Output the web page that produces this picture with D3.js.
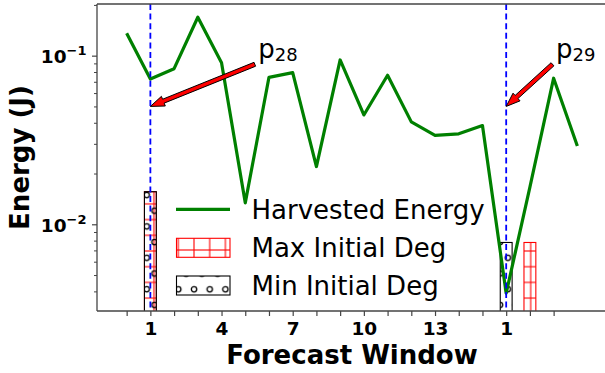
<!DOCTYPE html>
<html><head><meta charset="utf-8">
<script src="https://cdn.jsdelivr.net/npm/d3@7"></script>
<style>body{margin:0;background:#fff} svg{display:block;font-family:"DejaVu Sans",sans-serif}</style>
</head><body>
<svg id="chart" width="605" height="373"></svg>
<script>
// ---- data ----
const windowIdx = [0,1,2,3,4,5,6,7,8,9,10,11,12,13,14,15,16,17,18,19];
const harvested = [0.136,0.0727,0.0837,0.169,0.0909,0.0134,0.0744,0.0793,0.022,0.0943,
                   0.0445,0.0765,0.0405,0.0337,0.0344,0.0385,0.0039,0.0166,0.0735,0.0291];
const maxDegX = [1, 17];
const maxDegVals = [0.0156, 0.0078];
const minDegX = [1, 16];
const minDegVals = [0.0156, 0.0078];
const boundaryX = [1, 16];
const xTickValues = [0,1,2,3,4,5,6,7,8,9,10,11,12,13,14,15,16,17,18];
const xLabelPositions = [1,4,7,10,13,16];
const xLabelTexts = ["1","4","7","10","13","1"];
const yMajorTicks = [0.01, 0.1];
const yMajorExps = ["\u22122","\u22121"];
const yMinorTicks = [0.004,0.005,0.006,0.007,0.008,0.009,0.02,0.03,0.04,0.05,0.06,0.07,0.08,0.09,0.2];
const annotLabels = ["28","29"];
const annotTipX = [1, 16];
const annotTipY = [0.05, 0.05];
const annotTextX = [5.55, 18.1];
const annotTextY = [0.0965, 0.0965];
const legendLabels = ["Harvested Energy","Max Initial Deg","Min Initial Deg"];

// ---- layout ----
const L = 97, T = 4, R = 607, B = 311;
const svg = d3.select("#chart");
const x = d3.scaleLinear().domain([-1.25, 20.25]).range([L, R]);
const y = d3.scaleLog().domain([0.00306, 0.2025]).range([B, T]);
const spineColor = "#444";

// hatch patterns
const defs = svg.append("defs");
const P = 15.7;
function plusPattern(id, ox, oy){
  const p = defs.append("pattern").attr("id", id).attr("patternUnits","userSpaceOnUse")
    .attr("width", P).attr("height", P).attr("x", ox - P/2).attr("y", oy - P/2);
  p.append("line").attr("x1", P/2).attr("x2", P/2).attr("y1", 0).attr("y2", P).attr("stroke","#ff0000").attr("stroke-width",1.1);
  p.append("line").attr("y1", P/2).attr("y2", P/2).attr("x1", 0).attr("x2", P).attr("stroke","#ff0000").attr("stroke-width",1.1);
}
function circlePattern(id, ox, oy){
  const p = defs.append("pattern").attr("id", id).attr("patternUnits","userSpaceOnUse")
    .attr("width", P).attr("height", 2*P).attr("x", ox - 4).attr("y", oy - 4);
  p.append("circle").attr("cx", 4).attr("cy", 4).attr("r", 2.7).attr("fill","none").attr("stroke","#000").attr("stroke-width",1.3);
  p.append("circle").attr("cx", 4 + P/2).attr("cy", 4 + P).attr("r", 2.7).attr("fill","none").attr("stroke","#000").attr("stroke-width",1.3);
}
plusPattern("plusHatch", 530.7, 251);
circlePattern("circHatch", 146.7, 195);
plusPattern("plusHatchLeg", 194, 250);
circlePattern("circHatchLeg", 178.3, 289.3);

const clip = defs.append("clipPath").attr("id","axclip");
clip.append("rect").attr("x", L).attr("y", T).attr("width", R - L).attr("height", B - T);

const plot = svg.append("g").attr("clip-path","url(#axclip)");

// bars
const bw = 0.5;
function drawBars(xs, vals, color, pat){
  const g = plot.append("g");
  g.selectAll("rect.h").data(xs).join("rect")
    .attr("x", (d)=>x(d - bw/2)).attr("width", x(bw) - x(0))
    .attr("y", (d,i)=>y(vals[i])).attr("height", (d,i)=>B - y(vals[i]) + 2)
    .attr("fill", `url(#${pat})`);
  g.selectAll("rect.e").data(xs).join("rect")
    .attr("x", (d)=>x(d - bw/2)).attr("width", x(bw) - x(0))
    .attr("y", (d,i)=>y(vals[i])).attr("height", (d,i)=>B - y(vals[i]) + 2)
    .attr("fill", "none").attr("stroke", color).attr("stroke-width", 1.1);
}
drawBars(maxDegX, maxDegVals, "#ff0000", "plusHatch");
drawBars(minDegX, minDegVals, "#000000", "circHatch");

// line
const line = d3.line().x((d,i)=>x(windowIdx[i])).y(d=>y(d));
plot.append("path").datum(harvested).attr("d", line)
  .attr("fill","none").attr("stroke","#008000").attr("stroke-width",3.2)
  .attr("stroke-linejoin","round").attr("stroke-linecap","butt");

// boundary lines
plot.selectAll("line.bd").data(boundaryX).join("line")
  .attr("x1", d=>x(d)).attr("x2", d=>x(d)).attr("y1", T).attr("y2", B)
  .attr("stroke","#0000ff").attr("stroke-width",1.8).attr("stroke-dasharray","6,3.6");

// axes
const xAxis = d3.axisBottom(x).tickValues(xTickValues).tickSize(5).tickPadding(6)
  .tickFormat(d => { const k = xLabelPositions.indexOf(d); return k >= 0 ? xLabelTexts[k] : ""; });
const gx = svg.append("g").attr("transform", `translate(0,${B})`).call(xAxis);
gx.select(".domain").remove();
gx.selectAll(".tick line").attr("stroke", spineColor).attr("stroke-width",1.2);
gx.selectAll(".tick text").attr("font-family","DejaVu Sans").attr("font-weight","bold")
  .attr("font-size","18.5px").attr("fill","#000").attr("dy", null).attr("y", 23.5);

const yAxis = d3.axisLeft(y).tickValues(yMajorTicks).tickSize(5).tickFormat(()=>"");
const gy = svg.append("g").attr("transform", `translate(${L},0)`).call(yAxis);
gy.select(".domain").remove();
gy.selectAll(".tick line").attr("stroke", spineColor).attr("stroke-width",1.2);
gy.selectAll(".tick text").each(function(d, i){
  const t = d3.select(this).text(null).attr("x", -10.5).attr("dy", null).attr("y", 7.3)
    .attr("text-anchor","end").attr("font-family","DejaVu Sans").attr("font-weight","bold")
    .attr("fill","#000");
  t.append("tspan").attr("font-size","18.5px").text("10");
  t.append("tspan").attr("font-size","13px").attr("dy", -8).text(yMajorExps[i]);
});
const yMinor = d3.axisLeft(y).tickValues(yMinorTicks).tickSize(3).tickFormat(()=>"");
const gym = svg.append("g").attr("transform", `translate(${L},0)`).call(yMinor);
gym.select(".domain").remove();
gym.selectAll(".tick line").attr("stroke", spineColor).attr("stroke-width",1);

// spines
svg.append("line").attr("x1",L).attr("x2",L).attr("y1",T).attr("y2",B).attr("stroke",spineColor).attr("stroke-width",1.3);
svg.append("line").attr("x1",L).attr("x2",R).attr("y1",B).attr("y2",B).attr("stroke",spineColor).attr("stroke-width",1.3);
svg.append("line").attr("x1",L).attr("x2",R).attr("y1",T).attr("y2",T).attr("stroke",spineColor).attr("stroke-width",1.3);
svg.append("line").attr("x1",R).attr("x2",R).attr("y1",T).attr("y2",B).attr("stroke",spineColor).attr("stroke-width",1.3);

// axis labels
svg.append("text").attr("x", (L+R)/2).attr("y", 364).attr("text-anchor","middle")
  .attr("font-weight","bold").attr("font-size","26px").text("Forecast Window");
svg.append("text").attr("transform", `translate(29,${(T+B)/2}) rotate(-90)`).attr("text-anchor","middle")
  .attr("font-weight","bold").attr("font-size","26px").text("Energy (J)");

// annotations
annotLabels.forEach((lab, i) => {
  const tx = x(annotTextX[i]), ty = y(annotTextY[i]);
  const px = x(annotTipX[i]), py = y(annotTipY[i]);
  const sx = tx - 3.5, sy = ty + 6;
  const dx = px - sx, dy = py - sy, len = Math.hypot(dx, dy);
  const ux = dx/len, uy = dy/len, nx = -uy, ny = ux;
  const w = 2.1, hw = 5.2, hl = 14;
  const bx = px - ux*hl, by = py - uy*hl;
  const pts = [[sx+nx*w, sy+ny*w],[bx+nx*w, by+ny*w],[bx+nx*hw, by+ny*hw],[px,py],
               [bx-nx*hw, by-ny*hw],[bx-nx*w, by-ny*w],[sx-nx*w, sy-ny*w]];
  svg.append("polygon").attr("points", pts.map(p=>p.join(",")).join(" "))
    .attr("fill","#ff0000").attr("stroke","#000").attr("stroke-width",1).attr("stroke-linejoin","miter");
  const t = svg.append("text").attr("x", tx).attr("y", ty).attr("font-size","26px").attr("fill","#000");
  t.append("tspan").text("p");
  t.append("tspan").attr("font-size","18px").attr("dy", 3).text(lab);
});

// legend
const lg = svg.append("g");
const rowsY = [209.3, 247.8, 285.5];
lg.append("line").attr("x1",176).attr("x2",230).attr("y1",rowsY[0]).attr("y2",rowsY[0])
  .attr("stroke","#008000").attr("stroke-width",3.2);
lg.append("rect").attr("x",176.5).attr("y",rowsY[1]-9.5).attr("width",53.5).attr("height",19)
  .attr("fill","url(#plusHatchLeg)").attr("stroke","#ff0000").attr("stroke-width",1.1);
lg.append("rect").attr("x",176.5).attr("y",rowsY[2]-9.5).attr("width",53.5).attr("height",19)
  .attr("fill","url(#circHatchLeg)").attr("stroke","#000").attr("stroke-width",1.1);
lg.selectAll("text").data(legendLabels).join("text")
  .attr("x", 251.5).attr("y", (d,i)=>rowsY[i] + 9.3)
  .attr("font-size","26px").attr("fill","#000").text(d=>d);
</script>
</body></html>
